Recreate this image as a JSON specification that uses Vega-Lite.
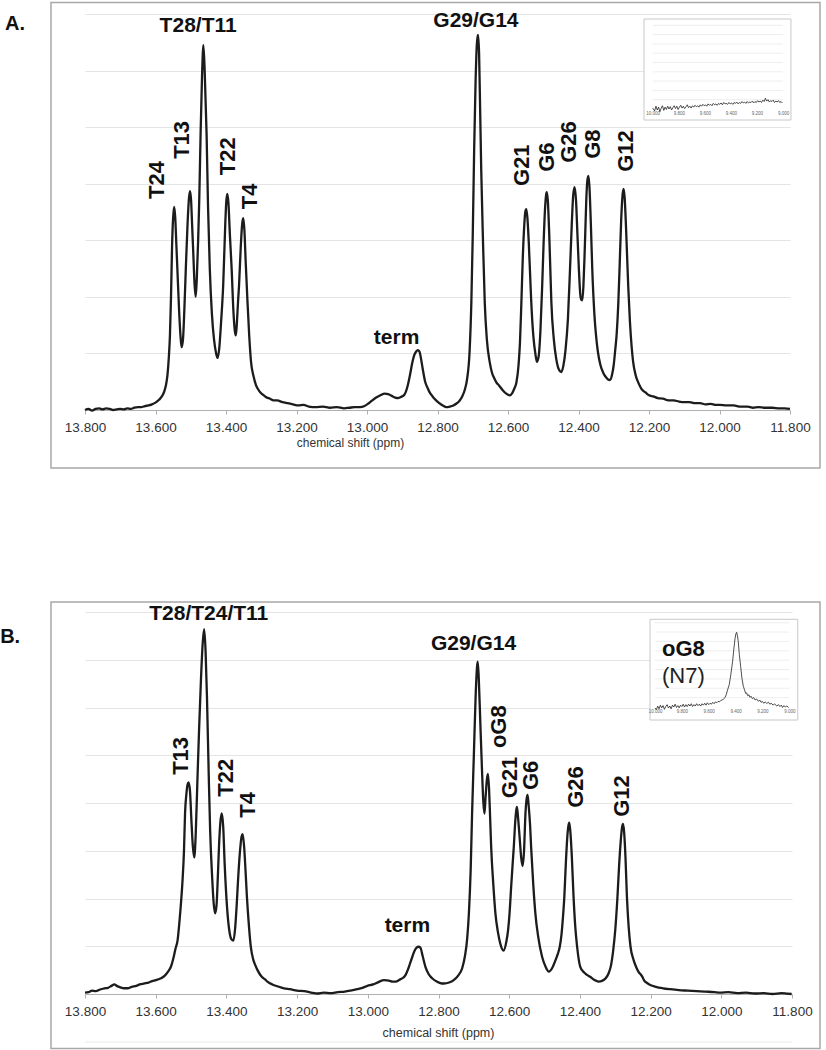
{
  "$schema": "https://vega.github.io/schema/vega-lite/v6.json",
  "padding": {"left": 0, "top": 1, "right": 0, "bottom": 0},
  "config": {"view": {"stroke": null}, "font": "Liberation Sans", "text": {"font": "Liberation Sans"}},
  "spacing": 132,
  "datasets": {
    "grid9": [{"g":1},{"g":2},{"g":3},{"g":4},{"g":5},{"g":6},{"g":7},{"g":8},{"g":9}],
    "specA": [
      {"ppm":13.8,"i":0.0},{"ppm":13.79,"i":0.02},{"ppm":13.78,"i":-0.01},{"ppm":13.77,"i":0.02},{"ppm":13.76,"i":0.03},{"ppm":13.75,"i":0.01},{"ppm":13.74,"i":0.03},{"ppm":13.73,"i":0.02},{"ppm":13.72,"i":0.0},{"ppm":13.71,"i":0.01},{"ppm":13.7,"i":0.02},{"ppm":13.69,"i":0.01},{"ppm":13.68,"i":0.03},{"ppm":13.67,"i":0.02},{"ppm":13.66,"i":0.04},{"ppm":13.65,"i":0.05},{"ppm":13.64,"i":0.05},{"ppm":13.63,"i":0.07},{"ppm":13.62,"i":0.08},{"ppm":13.61,"i":0.1},{"ppm":13.6,"i":0.13},{"ppm":13.59,"i":0.18},{"ppm":13.58,"i":0.26},{"ppm":13.575,"i":0.33},{"ppm":13.57,"i":0.45},{"ppm":13.566,"i":0.62},{"ppm":13.562,"i":0.95},{"ppm":13.559,"i":1.32},{"ppm":13.556,"i":2.0},{"ppm":13.553,"i":2.9},{"ppm":13.55,"i":3.4},{"ppm":13.547,"i":3.59},{"ppm":13.544,"i":3.4},{"ppm":13.541,"i":2.95},{"ppm":13.538,"i":2.5},{"ppm":13.533,"i":1.75},{"ppm":13.529,"i":1.3},{"ppm":13.526,"i":1.11},{"ppm":13.522,"i":1.25},{"ppm":13.518,"i":1.8},{"ppm":13.514,"i":2.5},{"ppm":13.509,"i":3.3},{"ppm":13.505,"i":3.75},{"ppm":13.502,"i":3.87},{"ppm":13.499,"i":3.7},{"ppm":13.496,"i":3.25},{"ppm":13.493,"i":2.8},{"ppm":13.489,"i":2.2},{"ppm":13.486,"i":2.0},{"ppm":13.483,"i":2.3},{"ppm":13.479,"i":3.0},{"ppm":13.476,"i":3.68},{"ppm":13.472,"i":4.9},{"ppm":13.468,"i":5.9},{"ppm":13.464,"i":6.45},{"ppm":13.46,"i":5.9},{"ppm":13.455,"i":4.86},{"ppm":13.451,"i":3.6},{"ppm":13.446,"i":2.5},{"ppm":13.44,"i":1.7},{"ppm":13.434,"i":1.25},{"ppm":13.428,"i":1.0},{"ppm":13.424,"i":0.92},{"ppm":13.419,"i":1.1},{"ppm":13.414,"i":1.55},{"ppm":13.408,"i":2.2},{"ppm":13.402,"i":3.3},{"ppm":13.399,"i":3.7},{"ppm":13.396,"i":3.82},{"ppm":13.393,"i":3.65},{"ppm":13.389,"i":3.1},{"ppm":13.384,"i":2.5},{"ppm":13.379,"i":1.75},{"ppm":13.375,"i":1.4},{"ppm":13.372,"i":1.32},{"ppm":13.369,"i":1.55},{"ppm":13.366,"i":1.9},{"ppm":13.363,"i":2.2},{"ppm":13.358,"i":2.9},{"ppm":13.354,"i":3.3},{"ppm":13.351,"i":3.39},{"ppm":13.348,"i":3.2},{"ppm":13.344,"i":2.6},{"ppm":13.339,"i":1.91},{"ppm":13.334,"i":1.3},{"ppm":13.329,"i":0.85},{"ppm":13.322,"i":0.6},{"ppm":13.315,"i":0.44},{"ppm":13.305,"i":0.33},{"ppm":13.295,"i":0.27},{"ppm":13.287,"i":0.23},{"ppm":13.275,"i":0.2},{"ppm":13.265,"i":0.17},{"ppm":13.255,"i":0.17},{"ppm":13.24,"i":0.14},{"ppm":13.225,"i":0.12},{"ppm":13.21,"i":0.1},{"ppm":13.195,"i":0.08},{"ppm":13.18,"i":0.09},{"ppm":13.165,"i":0.06},{"ppm":13.145,"i":0.05},{"ppm":13.125,"i":0.06},{"ppm":13.105,"i":0.04},{"ppm":13.085,"i":0.05},{"ppm":13.065,"i":0.03},{"ppm":13.05,"i":0.04},{"ppm":13.035,"i":0.05},{"ppm":13.02,"i":0.05},{"ppm":13.007,"i":0.07},{"ppm":12.995,"i":0.12},{"ppm":12.985,"i":0.17},{"ppm":12.974,"i":0.22},{"ppm":12.962,"i":0.26},{"ppm":12.95,"i":0.29},{"ppm":12.94,"i":0.28},{"ppm":12.93,"i":0.25},{"ppm":12.92,"i":0.22},{"ppm":12.913,"i":0.21},{"ppm":12.904,"i":0.23},{"ppm":12.894,"i":0.27},{"ppm":12.885,"i":0.42},{"ppm":12.878,"i":0.62},{"ppm":12.872,"i":0.82},{"ppm":12.866,"i":0.97},{"ppm":12.86,"i":1.04},{"ppm":12.856,"i":1.06},{"ppm":12.851,"i":1.03},{"ppm":12.846,"i":0.88},{"ppm":12.842,"i":0.73},{"ppm":12.835,"i":0.5},{"ppm":12.828,"i":0.39},{"ppm":12.823,"i":0.32},{"ppm":12.814,"i":0.24},{"ppm":12.804,"i":0.17},{"ppm":12.795,"i":0.12},{"ppm":12.785,"i":0.08},{"ppm":12.775,"i":0.05},{"ppm":12.765,"i":0.06},{"ppm":12.755,"i":0.08},{"ppm":12.747,"i":0.11},{"ppm":12.738,"i":0.16},{"ppm":12.73,"i":0.24},{"ppm":12.723,"i":0.35},{"ppm":12.716,"i":0.55},{"ppm":12.709,"i":1.03},{"ppm":12.704,"i":1.9},{"ppm":12.7,"i":3.09},{"ppm":12.696,"i":4.6},{"ppm":12.692,"i":5.8},{"ppm":12.688,"i":6.5},{"ppm":12.685,"i":6.63},{"ppm":12.682,"i":6.3},{"ppm":12.679,"i":5.3},{"ppm":12.676,"i":4.26},{"ppm":12.671,"i":3.0},{"ppm":12.666,"i":1.91},{"ppm":12.66,"i":1.25},{"ppm":12.652,"i":0.85},{"ppm":12.645,"i":0.65},{"ppm":12.638,"i":0.55},{"ppm":12.633,"i":0.49},{"ppm":12.625,"i":0.43},{"ppm":12.615,"i":0.35},{"ppm":12.605,"i":0.29},{"ppm":12.595,"i":0.26},{"ppm":12.588,"i":0.3},{"ppm":12.582,"i":0.38},{"ppm":12.576,"i":0.49},{"ppm":12.57,"i":0.8},{"ppm":12.566,"i":1.2},{"ppm":12.562,"i":1.91},{"ppm":12.558,"i":2.7},{"ppm":12.554,"i":3.25},{"ppm":12.551,"i":3.5},{"ppm":12.548,"i":3.55},{"ppm":12.545,"i":3.4},{"ppm":12.541,"i":2.95},{"ppm":12.537,"i":2.35},{"ppm":12.534,"i":1.91},{"ppm":12.528,"i":1.3},{"ppm":12.522,"i":0.98},{"ppm":12.518,"i":0.85},{"ppm":12.513,"i":0.95},{"ppm":12.508,"i":1.4},{"ppm":12.503,"i":2.2},{"ppm":12.499,"i":2.95},{"ppm":12.495,"i":3.55},{"ppm":12.492,"i":3.8},{"ppm":12.49,"i":3.85},{"ppm":12.487,"i":3.7},{"ppm":12.483,"i":3.1},{"ppm":12.48,"i":2.5},{"ppm":12.477,"i":1.91},{"ppm":12.47,"i":1.25},{"ppm":12.463,"i":0.9},{"ppm":12.456,"i":0.72},{"ppm":12.449,"i":0.67},{"ppm":12.443,"i":0.78},{"ppm":12.437,"i":1.05},{"ppm":12.43,"i":1.61},{"ppm":12.424,"i":2.5},{"ppm":12.419,"i":3.3},{"ppm":12.415,"i":3.8},{"ppm":12.411,"i":3.94},{"ppm":12.407,"i":3.7},{"ppm":12.403,"i":3.1},{"ppm":12.399,"i":2.5},{"ppm":12.395,"i":2.05},{"ppm":12.392,"i":1.95},{"ppm":12.389,"i":1.94},{"ppm":12.386,"i":2.2},{"ppm":12.383,"i":2.7},{"ppm":12.381,"i":3.09},{"ppm":12.378,"i":3.7},{"ppm":12.375,"i":4.05},{"ppm":12.372,"i":4.14},{"ppm":12.369,"i":3.95},{"ppm":12.365,"i":3.3},{"ppm":12.361,"i":2.5},{"ppm":12.355,"i":1.7},{"ppm":12.35,"i":1.3},{"ppm":12.345,"i":1.03},{"ppm":12.338,"i":0.8},{"ppm":12.33,"i":0.66},{"ppm":12.322,"i":0.58},{"ppm":12.316,"i":0.54},{"ppm":12.311,"i":0.53},{"ppm":12.305,"i":0.62},{"ppm":12.3,"i":0.8},{"ppm":12.296,"i":1.05},{"ppm":12.292,"i":1.32},{"ppm":12.287,"i":1.9},{"ppm":12.283,"i":2.6},{"ppm":12.279,"i":3.35},{"ppm":12.275,"i":3.8},{"ppm":12.272,"i":3.91},{"ppm":12.269,"i":3.75},{"ppm":12.265,"i":3.2},{"ppm":12.259,"i":2.2},{"ppm":12.254,"i":1.55},{"ppm":12.249,"i":1.1},{"ppm":12.245,"i":0.85},{"ppm":12.238,"i":0.62},{"ppm":12.23,"i":0.48},{"ppm":12.221,"i":0.37},{"ppm":12.21,"i":0.31},{"ppm":12.2,"i":0.26},{"ppm":12.188,"i":0.24},{"ppm":12.175,"i":0.21},{"ppm":12.16,"i":0.2},{"ppm":12.145,"i":0.17},{"ppm":12.13,"i":0.17},{"ppm":12.115,"i":0.15},{"ppm":12.1,"i":0.14},{"ppm":12.085,"i":0.14},{"ppm":12.07,"i":0.12},{"ppm":12.055,"i":0.12},{"ppm":12.04,"i":0.1},{"ppm":12.025,"i":0.11},{"ppm":12.01,"i":0.09},{"ppm":11.999,"i":0.09},{"ppm":11.98,"i":0.08},{"ppm":11.96,"i":0.08},{"ppm":11.94,"i":0.06},{"ppm":11.92,"i":0.06},{"ppm":11.905,"i":0.04},{"ppm":11.89,"i":0.05},{"ppm":11.87,"i":0.04},{"ppm":11.85,"i":0.04},{"ppm":11.83,"i":0.03},{"ppm":11.815,"i":0.03},{"ppm":11.8,"i":0.02}
    ],
    "specB": [
      {"ppm":13.8,"i":0.03},{"ppm":13.79,"i":0.04},{"ppm":13.78,"i":0.07},{"ppm":13.77,"i":0.06},{"ppm":13.755,"i":0.1},{"ppm":13.745,"i":0.12},{"ppm":13.735,"i":0.13},{"ppm":13.725,"i":0.17},{"ppm":13.717,"i":0.2},{"ppm":13.71,"i":0.17},{"ppm":13.7,"i":0.14},{"ppm":13.69,"i":0.12},{"ppm":13.679,"i":0.12},{"ppm":13.668,"i":0.15},{"ppm":13.655,"i":0.17},{"ppm":13.645,"i":0.2},{"ppm":13.632,"i":0.22},{"ppm":13.62,"i":0.24},{"ppm":13.61,"i":0.27},{"ppm":13.6,"i":0.29},{"ppm":13.585,"i":0.33},{"ppm":13.575,"i":0.38},{"ppm":13.565,"i":0.47},{"ppm":13.557,"i":0.57},{"ppm":13.55,"i":0.75},{"ppm":13.544,"i":0.95},{"ppm":13.538,"i":1.13},{"ppm":13.533,"i":1.5},{"ppm":13.528,"i":1.95},{"ppm":13.524,"i":2.39},{"ppm":13.52,"i":3.0},{"ppm":13.517,"i":3.78},{"ppm":13.513,"i":4.2},{"ppm":13.51,"i":4.38},{"ppm":13.507,"i":4.43},{"ppm":13.503,"i":4.25},{"ppm":13.499,"i":3.64},{"ppm":13.495,"i":3.1},{"ppm":13.491,"i":2.86},{"ppm":13.487,"i":3.3},{"ppm":13.482,"i":4.48},{"ppm":13.477,"i":5.6},{"ppm":13.472,"i":6.58},{"ppm":13.467,"i":7.35},{"ppm":13.463,"i":7.64},{"ppm":13.459,"i":7.2},{"ppm":13.455,"i":6.23},{"ppm":13.45,"i":4.6},{"ppm":13.446,"i":3.43},{"ppm":13.44,"i":2.4},{"ppm":13.436,"i":1.9},{"ppm":13.432,"i":1.69},{"ppm":13.428,"i":1.85},{"ppm":13.424,"i":2.5},{"ppm":13.421,"i":3.08},{"ppm":13.417,"i":3.6},{"ppm":13.413,"i":3.78},{"ppm":13.409,"i":3.5},{"ppm":13.405,"i":2.74},{"ppm":13.398,"i":1.8},{"ppm":13.392,"i":1.34},{"ppm":13.386,"i":1.15},{"ppm":13.38,"i":1.12},{"ppm":13.375,"i":1.4},{"ppm":13.371,"i":1.85},{"ppm":13.367,"i":2.39},{"ppm":13.362,"i":2.95},{"ppm":13.357,"i":3.3},{"ppm":13.354,"i":3.35},{"ppm":13.35,"i":3.1},{"ppm":13.346,"i":2.6},{"ppm":13.342,"i":2.04},{"ppm":13.336,"i":1.4},{"ppm":13.331,"i":0.99},{"ppm":13.324,"i":0.72},{"ppm":13.318,"i":0.6},{"ppm":13.312,"i":0.5},{"ppm":13.3,"i":0.36},{"ppm":13.29,"i":0.3},{"ppm":13.284,"i":0.26},{"ppm":13.27,"i":0.2},{"ppm":13.255,"i":0.16},{"ppm":13.237,"i":0.12},{"ppm":13.22,"i":0.1},{"ppm":13.2,"i":0.07},{"ppm":13.18,"i":0.06},{"ppm":13.16,"i":0.03},{"ppm":13.143,"i":0.01},{"ppm":13.125,"i":0.03},{"ppm":13.105,"i":0.02},{"ppm":13.085,"i":0.04},{"ppm":13.065,"i":0.05},{"ppm":13.049,"i":0.07},{"ppm":13.03,"i":0.1},{"ppm":13.015,"i":0.13},{"ppm":13.001,"i":0.17},{"ppm":12.985,"i":0.2},{"ppm":12.97,"i":0.25},{"ppm":12.954,"i":0.29},{"ppm":12.94,"i":0.28},{"ppm":12.93,"i":0.26},{"ppm":12.921,"i":0.26},{"ppm":12.91,"i":0.3},{"ppm":12.9,"i":0.34},{"ppm":12.893,"i":0.4},{"ppm":12.886,"i":0.52},{"ppm":12.88,"i":0.65},{"ppm":12.874,"i":0.78},{"ppm":12.868,"i":0.9},{"ppm":12.862,"i":0.97},{"ppm":12.856,"i":0.99},{"ppm":12.851,"i":0.97},{"ppm":12.845,"i":0.8},{"ppm":12.837,"i":0.57},{"ppm":12.828,"i":0.42},{"ppm":12.818,"i":0.33},{"ppm":12.805,"i":0.26},{"ppm":12.795,"i":0.23},{"ppm":12.785,"i":0.22},{"ppm":12.77,"i":0.24},{"ppm":12.757,"i":0.29},{"ppm":12.745,"i":0.38},{"ppm":12.733,"i":0.54},{"ppm":12.725,"i":0.8},{"ppm":12.719,"i":1.15},{"ppm":12.714,"i":1.69},{"ppm":12.709,"i":2.6},{"ppm":12.705,"i":3.78},{"ppm":12.7,"i":5.0},{"ppm":12.695,"i":6.23},{"ppm":12.691,"i":6.85},{"ppm":12.689,"i":6.96},{"ppm":12.686,"i":6.6},{"ppm":12.681,"i":5.53},{"ppm":12.677,"i":4.7},{"ppm":12.673,"i":4.0},{"ppm":12.67,"i":3.78},{"ppm":12.667,"i":4.1},{"ppm":12.663,"i":4.5},{"ppm":12.66,"i":4.61},{"ppm":12.657,"i":4.3},{"ppm":12.654,"i":3.7},{"ppm":12.651,"i":3.08},{"ppm":12.645,"i":2.3},{"ppm":12.639,"i":1.69},{"ppm":12.632,"i":1.3},{"ppm":12.625,"i":1.05},{"ppm":12.616,"i":0.91},{"ppm":12.608,"i":1.1},{"ppm":12.603,"i":1.35},{"ppm":12.599,"i":1.69},{"ppm":12.594,"i":2.3},{"ppm":12.59,"i":2.75},{"ppm":12.587,"i":3.08},{"ppm":12.583,"i":3.6},{"ppm":12.58,"i":3.85},{"ppm":12.578,"i":3.92},{"ppm":12.575,"i":3.7},{"ppm":12.57,"i":3.23},{"ppm":12.566,"i":2.85},{"ppm":12.562,"i":2.68},{"ppm":12.558,"i":3.0},{"ppm":12.554,"i":3.78},{"ppm":12.551,"i":4.07},{"ppm":12.548,"i":4.17},{"ppm":12.545,"i":3.95},{"ppm":12.541,"i":3.55},{"ppm":12.538,"i":3.08},{"ppm":12.532,"i":2.3},{"ppm":12.526,"i":1.69},{"ppm":12.518,"i":1.2},{"ppm":12.507,"i":0.78},{"ppm":12.497,"i":0.57},{"ppm":12.488,"i":0.47},{"ppm":12.478,"i":0.55},{"ppm":12.469,"i":0.71},{"ppm":12.462,"i":0.85},{"ppm":12.457,"i":0.99},{"ppm":12.452,"i":1.25},{"ppm":12.448,"i":1.6},{"ppm":12.444,"i":2.04},{"ppm":12.44,"i":2.7},{"ppm":12.436,"i":3.25},{"ppm":12.433,"i":3.5},{"ppm":12.43,"i":3.59},{"ppm":12.427,"i":3.4},{"ppm":12.423,"i":2.9},{"ppm":12.418,"i":2.04},{"ppm":12.413,"i":1.4},{"ppm":12.408,"i":1.0},{"ppm":12.399,"i":0.57},{"ppm":12.388,"i":0.45},{"ppm":12.38,"i":0.4},{"ppm":12.371,"i":0.36},{"ppm":12.36,"i":0.3},{"ppm":12.347,"i":0.26},{"ppm":12.336,"i":0.28},{"ppm":12.327,"i":0.33},{"ppm":12.319,"i":0.43},{"ppm":12.312,"i":0.6},{"ppm":12.306,"i":0.9},{"ppm":12.3,"i":1.34},{"ppm":12.294,"i":2.0},{"ppm":12.289,"i":2.7},{"ppm":12.284,"i":3.25},{"ppm":12.281,"i":3.48},{"ppm":12.278,"i":3.56},{"ppm":12.275,"i":3.4},{"ppm":12.271,"i":2.85},{"ppm":12.267,"i":2.04},{"ppm":12.262,"i":1.4},{"ppm":12.257,"i":1.0},{"ppm":12.248,"i":0.71},{"ppm":12.24,"i":0.55},{"ppm":12.233,"i":0.45},{"ppm":12.229,"i":0.42},{"ppm":12.224,"i":0.37},{"ppm":12.218,"i":0.28},{"ppm":12.21,"i":0.23},{"ppm":12.201,"i":0.19},{"ppm":12.185,"i":0.15},{"ppm":12.165,"i":0.12},{"ppm":12.145,"i":0.1},{"ppm":12.12,"i":0.08},{"ppm":12.095,"i":0.07},{"ppm":12.07,"i":0.06},{"ppm":12.045,"i":0.05},{"ppm":12.02,"i":0.04},{"ppm":12.003,"i":0.03},{"ppm":11.98,"i":0.04},{"ppm":11.955,"i":0.02},{"ppm":11.93,"i":0.03},{"ppm":11.905,"i":0.01},{"ppm":11.88,"i":0.02},{"ppm":11.855,"i":0.0},{"ppm":11.83,"i":0.02},{"ppm":11.815,"i":0.01},{"ppm":11.801,"i":0.0}
    ],
    "insetA": [
      {"ppm":10.0,"i":0.1},{"ppm":9.985,"i":-0.2},{"ppm":9.975,"i":0.3},{"ppm":9.965,"i":-0.1},{"ppm":9.955,"i":0.2},{"ppm":9.945,"i":-0.3},{"ppm":9.935,"i":0.1},{"ppm":9.925,"i":0.35},{"ppm":9.915,"i":-0.15},{"ppm":9.905,"i":0.2},{"ppm":9.895,"i":-0.05},{"ppm":9.885,"i":0.3},{"ppm":9.875,"i":0.0},{"ppm":9.865,"i":0.25},{"ppm":9.855,"i":-0.1},{"ppm":9.845,"i":0.15},{"ppm":9.835,"i":0.35},{"ppm":9.825,"i":0.05},{"ppm":9.815,"i":0.3},{"ppm":9.805,"i":-0.05},{"ppm":9.795,"i":0.2},{"ppm":9.785,"i":0.4},{"ppm":9.775,"i":0.1},{"ppm":9.765,"i":0.3},{"ppm":9.755,"i":0.05},{"ppm":9.745,"i":0.25},{"ppm":9.735,"i":0.45},{"ppm":9.725,"i":0.15},{"ppm":9.715,"i":0.3},{"ppm":9.705,"i":0.1},{"ppm":9.695,"i":0.35},{"ppm":9.685,"i":0.2},{"ppm":9.675,"i":0.4},{"ppm":9.665,"i":0.25},{"ppm":9.655,"i":0.35},{"ppm":9.645,"i":0.2},{"ppm":9.635,"i":0.45},{"ppm":9.625,"i":0.3},{"ppm":9.615,"i":0.5},{"ppm":9.605,"i":0.35},{"ppm":9.595,"i":0.45},{"ppm":9.585,"i":0.3},{"ppm":9.575,"i":0.55},{"ppm":9.565,"i":0.4},{"ppm":9.555,"i":0.5},{"ppm":9.545,"i":0.35},{"ppm":9.535,"i":0.6},{"ppm":9.525,"i":0.45},{"ppm":9.515,"i":0.55},{"ppm":9.505,"i":0.4},{"ppm":9.495,"i":0.6},{"ppm":9.485,"i":0.5},{"ppm":9.475,"i":0.65},{"ppm":9.465,"i":0.45},{"ppm":9.455,"i":0.7},{"ppm":9.445,"i":0.55},{"ppm":9.435,"i":0.6},{"ppm":9.425,"i":0.5},{"ppm":9.415,"i":0.7},{"ppm":9.405,"i":0.55},{"ppm":9.395,"i":0.65},{"ppm":9.385,"i":0.5},{"ppm":9.375,"i":0.7},{"ppm":9.365,"i":0.6},{"ppm":9.355,"i":0.75},{"ppm":9.345,"i":0.55},{"ppm":9.335,"i":0.7},{"ppm":9.325,"i":0.6},{"ppm":9.315,"i":0.8},{"ppm":9.305,"i":0.65},{"ppm":9.295,"i":0.75},{"ppm":9.285,"i":0.6},{"ppm":9.275,"i":0.8},{"ppm":9.265,"i":0.65},{"ppm":9.255,"i":0.75},{"ppm":9.245,"i":0.7},{"ppm":9.235,"i":0.85},{"ppm":9.225,"i":0.65},{"ppm":9.215,"i":0.8},{"ppm":9.205,"i":0.7},{"ppm":9.195,"i":0.9},{"ppm":9.185,"i":0.75},{"ppm":9.175,"i":0.85},{"ppm":9.165,"i":0.7},{"ppm":9.155,"i":0.95},{"ppm":9.145,"i":0.8},{"ppm":9.135,"i":1.15},{"ppm":9.125,"i":0.85},{"ppm":9.115,"i":1.0},{"ppm":9.105,"i":0.75},{"ppm":9.095,"i":0.9},{"ppm":9.085,"i":0.8},{"ppm":9.075,"i":0.95},{"ppm":9.065,"i":0.7},{"ppm":9.055,"i":0.85},{"ppm":9.045,"i":0.75},{"ppm":9.035,"i":0.9},{"ppm":9.025,"i":0.7},{"ppm":9.015,"i":0.8},{"ppm":9.005,"i":0.65}
    ],
    "insetB": [
      {"ppm":10.0,"i":-0.1},{"ppm":9.99,"i":-0.3},{"ppm":9.98,"i":0.1},{"ppm":9.97,"i":-0.2},{"ppm":9.96,"i":0.2},{"ppm":9.95,"i":-0.1},{"ppm":9.94,"i":0.15},{"ppm":9.93,"i":-0.25},{"ppm":9.92,"i":0.05},{"ppm":9.91,"i":0.25},{"ppm":9.9,"i":-0.1},{"ppm":9.89,"i":0.1},{"ppm":9.88,"i":-0.2},{"ppm":9.87,"i":0.2},{"ppm":9.86,"i":0.0},{"ppm":9.85,"i":0.3},{"ppm":9.84,"i":-0.05},{"ppm":9.83,"i":0.15},{"ppm":9.82,"i":-0.1},{"ppm":9.81,"i":0.2},{"ppm":9.8,"i":0.05},{"ppm":9.79,"i":0.3},{"ppm":9.78,"i":0.0},{"ppm":9.77,"i":0.25},{"ppm":9.76,"i":0.05},{"ppm":9.75,"i":0.3},{"ppm":9.74,"i":0.1},{"ppm":9.73,"i":0.35},{"ppm":9.72,"i":0.05},{"ppm":9.71,"i":0.25},{"ppm":9.7,"i":0.1},{"ppm":9.69,"i":0.35},{"ppm":9.68,"i":0.15},{"ppm":9.67,"i":0.3},{"ppm":9.66,"i":0.1},{"ppm":9.65,"i":0.35},{"ppm":9.64,"i":0.2},{"ppm":9.63,"i":0.4},{"ppm":9.62,"i":0.2},{"ppm":9.61,"i":0.45},{"ppm":9.6,"i":0.25},{"ppm":9.59,"i":0.4},{"ppm":9.58,"i":0.3},{"ppm":9.57,"i":0.5},{"ppm":9.56,"i":0.35},{"ppm":9.55,"i":0.55},{"ppm":9.54,"i":0.45},{"ppm":9.53,"i":0.6},{"ppm":9.52,"i":0.55},{"ppm":9.51,"i":0.7},{"ppm":9.5,"i":0.75},{"ppm":9.49,"i":0.85},{"ppm":9.479,"i":1.0},{"ppm":9.47,"i":1.3},{"ppm":9.46,"i":1.8},{"ppm":9.447,"i":2.4},{"ppm":9.435,"i":3.5},{"ppm":9.422,"i":4.9},{"ppm":9.412,"i":6.3},{"ppm":9.404,"i":7.3},{"ppm":9.398,"i":7.8},{"ppm":9.392,"i":7.97},{"ppm":9.386,"i":7.6},{"ppm":9.38,"i":6.97},{"ppm":9.372,"i":5.6},{"ppm":9.362,"i":4.3},{"ppm":9.352,"i":3.0},{"ppm":9.342,"i":2.2},{"ppm":9.335,"i":1.9},{"ppm":9.325,"i":1.45},{"ppm":9.317,"i":1.5},{"ppm":9.31,"i":1.2},{"ppm":9.3,"i":1.3},{"ppm":9.293,"i":1.03},{"ppm":9.285,"i":1.15},{"ppm":9.275,"i":0.9},{"ppm":9.265,"i":1.0},{"ppm":9.255,"i":0.75},{"ppm":9.243,"i":0.85},{"ppm":9.23,"i":0.6},{"ppm":9.22,"i":0.75},{"ppm":9.21,"i":0.5},{"ppm":9.2,"i":0.6},{"ppm":9.19,"i":0.4},{"ppm":9.18,"i":0.55},{"ppm":9.168,"i":0.39},{"ppm":9.155,"i":0.5},{"ppm":9.145,"i":0.3},{"ppm":9.135,"i":0.4},{"ppm":9.12,"i":0.2},{"ppm":9.11,"i":0.35},{"ppm":9.094,"i":0.1},{"ppm":9.08,"i":0.25},{"ppm":9.07,"i":0.05},{"ppm":9.06,"i":0.2},{"ppm":9.05,"i":-0.05},{"ppm":9.04,"i":0.15},{"ppm":9.03,"i":0.0},{"ppm":9.019,"i":0.1},{"ppm":9.005,"i":-0.05}
    ],
    "labA_rot": [
      {"label":"T24","ppm":13.595,"i":3.73},{"label":"T13","ppm":13.524,"i":4.44},{"label":"T22","ppm":13.394,"i":4.15},{"label":"T4","ppm":13.331,"i":3.55},
      {"label":"G21","ppm":12.559,"i":3.96},{"label":"G6","ppm":12.49,"i":4.21},{"label":"G26","ppm":12.428,"i":4.37},{"label":"G8","ppm":12.36,"i":4.44},{"label":"G12","ppm":12.266,"i":4.21}
    ],
    "labA_flat": [
      {"label":"T28/T11","ppm":13.479,"i":6.68},{"label":"term","ppm":12.916,"i":1.167},{"label":"G29/G14","ppm":12.691,"i":6.77}
    ],
    "labB_rot": [
      {"label":"T13","ppm":13.529,"i":4.59},{"label":"T22","ppm":13.402,"i":4.13},{"label":"T4","ppm":13.34,"i":3.69},
      {"label":"oG8","ppm":12.628,"i":5.15},{"label":"G21","ppm":12.597,"i":4.1},{"label":"G6","ppm":12.537,"i":4.27},{"label":"G26","ppm":12.41,"i":3.9},{"label":"G12","ppm":12.28,"i":3.71}
    ],
    "labB_flat": [
      {"label":"T28/T24/T11","ppm":13.45,"i":7.83},{"label":"term","ppm":12.888,"i":1.3},{"label":"G29/G14","ppm":12.701,"i":7.2}
    ]
  },
  "vconcat": [
    {
      "width": 705,
      "height": 396,
      "layer": [
        {
          "data": {"values": [{}]},
          "mark": {"type": "rect", "filled": false, "stroke": "#a8a8a8", "strokeWidth": 1.5},
          "encoding": {
            "x": {"datum": 13.8965, "type": "quantitative", "scale": {"domain": [11.8, 13.8], "reverse": true, "nice": false, "zero": false}, "axis": null},
            "x2": {"datum": 11.7149},
            "y": {"datum": -1.025, "type": "quantitative", "scale": {"domain": [0, 7], "nice": false, "zero": false}, "axis": null},
            "y2": {"datum": 7.203}
          }
        },
        {
          "data": {"name": "specA"},
          "mark": {"type": "line", "interpolate": "monotone", "color": "#1c1c1c", "strokeWidth": 2.3},
          "encoding": {
            "x": {"field": "ppm", "type": "quantitative", "scale": {"domain": [11.8, 13.8], "reverse": true, "nice": false, "zero": false},
              "axis": {"orient": "bottom", "values": [13.8, 13.6, 13.4, 13.2, 13.0, 12.8, 12.6, 12.4, 12.2, 12.0, 11.8], "format": ".3f", "grid": false, "domainColor": "#b0b0b0", "tickColor": "#b0b0b0", "tickSize": 4, "labelFontSize": 13.5, "labelColor": "#333333", "labelPadding": 6, "labelFlush": false, "labelFont": "Liberation Sans", "title": "chemical shift (ppm)", "titleFont": "Liberation Sans", "titleFontSize": 12, "titleFontWeight": "normal", "titleColor": "#333333", "titleX": 265, "titleY": 32, "titleBaseline": "middle", "titleAlign": "center"}},
            "y": {"field": "i", "type": "quantitative", "scale": {"domain": [0, 7], "nice": false, "zero": false},
              "axis": {"orient": "left", "values": [1, 2, 3, 4, 5, 6, 7], "grid": true, "gridColor": "#e4e4e4", "gridWidth": 1, "domain": false, "ticks": false, "labels": false, "title": null}}
          }
        },
        {
          "data": {"name": "labA_rot"},
          "mark": {"type": "text", "angle": 270, "align": "left", "baseline": "middle", "fontSize": 22, "fontWeight": "bold", "color": "#111111"},
          "encoding": {
            "x": {"field": "ppm", "type": "quantitative", "scale": {"domain": [11.8, 13.8], "reverse": true, "nice": false, "zero": false}, "axis": null},
            "y": {"field": "i", "type": "quantitative", "scale": {"domain": [0, 7], "nice": false, "zero": false}, "axis": null},
            "text": {"field": "label"}
          }
        },
        {
          "data": {"name": "labA_flat"},
          "mark": {"type": "text", "align": "center", "baseline": "alphabetic", "fontSize": 21, "fontWeight": "bold", "color": "#111111"},
          "encoding": {
            "x": {"field": "ppm", "type": "quantitative", "scale": {"domain": [11.8, 13.8], "reverse": true, "nice": false, "zero": false}, "axis": null},
            "y": {"field": "i", "type": "quantitative", "scale": {"domain": [0, 7], "nice": false, "zero": false}, "axis": null},
            "text": {"field": "label"}
          }
        },
        {
          "data": {"values": [{"t": "A."}]},
          "mark": {"type": "text", "align": "left", "baseline": "alphabetic", "fontSize": 20, "fontWeight": "bold", "color": "#111111"},
          "encoding": {
            "x": {"datum": 14.027, "type": "quantitative", "scale": {"domain": [11.8, 13.8], "reverse": true, "nice": false, "zero": false}, "axis": null},
            "y": {"datum": 6.717, "type": "quantitative", "scale": {"domain": [0, 7], "nice": false, "zero": false}, "axis": null},
            "text": {"field": "t"}
          }
        },
        {
          "data": {"values": [{}]},
          "mark": {"type": "rect", "fill": "#ffffff", "stroke": "#c8c8c8", "strokeWidth": 1},
          "encoding": {
            "x": {"datum": 10.067, "type": "quantitative", "scale": {"domain": [9, 10], "reverse": true, "nice": false, "zero": false, "range": [567.7, 698]}, "axis": null},
            "x2": {"datum": 8.939},
            "y": {"datum": -1.183, "type": "quantitative", "scale": {"domain": [0, 9], "nice": false, "zero": false, "range": [95, 11.3]}, "axis": null},
            "y2": {"datum": 9.677}
          }
        },
        {
          "data": {"name": "grid9"},
          "mark": {"type": "rule", "color": "#e6e6e6", "strokeWidth": 0.7},
          "encoding": {
            "x": {"datum": 10, "type": "quantitative", "scale": {"domain": [9, 10], "reverse": true, "nice": false, "zero": false, "range": [567.7, 698]}, "axis": null},
            "x2": {"datum": 9},
            "y": {"field": "g", "type": "quantitative", "scale": {"domain": [0, 9], "nice": false, "zero": false, "range": [95, 11.3]}, "axis": null}
          }
        },
        {
          "data": {"name": "insetA"},
          "mark": {"type": "line", "color": "#222222", "strokeWidth": 0.8},
          "encoding": {
            "x": {"field": "ppm", "type": "quantitative", "scale": {"domain": [9, 10], "reverse": true, "nice": false, "zero": false, "range": [567.7, 698]},
              "axis": {"orient": "bottom", "offset": -301, "values": [10, 9.8, 9.6, 9.4, 9.2, 9.0], "format": ".3f", "domain": false, "ticks": false, "grid": false, "labelFontSize": 4.5, "labelColor": "#666666", "labelPadding": 1, "labelFlush": false, "labelOverlap": false, "title": null, "zindex": 2}},
            "y": {"field": "i", "type": "quantitative", "scale": {"domain": [0, 9], "nice": false, "zero": false, "range": [95, 11.3]}, "axis": null}
          }
        }
      ],
      "resolve": {"scale": {"x": "independent", "y": "independent"}, "axis": {"x": "independent", "y": "independent"}}
    },
    {
      "width": 707,
      "height": 382,
      "layer": [
        {
          "data": {"values": [{}]},
          "mark": {"type": "rect", "filled": false, "stroke": "#a8a8a8", "strokeWidth": 1.5},
          "encoding": {
            "x": {"datum": 13.8962, "type": "quantitative", "scale": {"domain": [11.8, 13.8], "reverse": true, "nice": false, "zero": false}, "axis": null},
            "x2": {"datum": 11.7208},
            "y": {"datum": -1.141, "type": "quantitative", "scale": {"domain": [0, 8], "nice": false, "zero": false}, "axis": null},
            "y2": {"datum": 8.209}
          }
        },
        {
          "data": {"values": [{}]},
          "mark": {"type": "rule", "color": "#e8e8e8", "strokeWidth": 1},
          "encoding": {
            "x": {"datum": 13.8, "type": "quantitative", "scale": {"domain": [11.8, 13.8], "reverse": true, "nice": false, "zero": false}, "axis": null},
            "x2": {"datum": 11.8},
            "y": {"datum": -1.005, "type": "quantitative", "scale": {"domain": [0, 8], "nice": false, "zero": false}, "axis": null}
          }
        },
        {
          "data": {"name": "specB"},
          "mark": {"type": "line", "interpolate": "monotone", "color": "#1c1c1c", "strokeWidth": 2.3},
          "encoding": {
            "x": {"field": "ppm", "type": "quantitative", "scale": {"domain": [11.8, 13.8], "reverse": true, "nice": false, "zero": false},
              "axis": {"orient": "bottom", "values": [13.8, 13.6, 13.4, 13.2, 13.0, 12.8, 12.6, 12.4, 12.2, 12.0, 11.8], "format": ".3f", "grid": false, "domainColor": "#b0b0b0", "tickColor": "#b0b0b0", "tickSize": 4, "labelFontSize": 13.5, "labelColor": "#333333", "labelPadding": 6, "labelFlush": false, "labelFont": "Liberation Sans", "title": "chemical shift (ppm)", "titleFont": "Liberation Sans", "titleFontSize": 12.5, "titleFontWeight": "normal", "titleColor": "#333333", "titleX": 353, "titleY": 38, "titleBaseline": "middle", "titleAlign": "center"}},
            "y": {"field": "i", "type": "quantitative", "scale": {"domain": [0, 8], "nice": false, "zero": false},
              "axis": {"orient": "left", "values": [1, 2, 3, 4, 5, 6, 7, 8], "grid": true, "gridColor": "#e4e4e4", "gridWidth": 1, "domain": false, "ticks": false, "labels": false, "title": null}}
          }
        },
        {
          "data": {"name": "labB_rot"},
          "mark": {"type": "text", "angle": 270, "align": "left", "baseline": "middle", "fontSize": 22, "fontWeight": "bold", "color": "#111111"},
          "encoding": {
            "x": {"field": "ppm", "type": "quantitative", "scale": {"domain": [11.8, 13.8], "reverse": true, "nice": false, "zero": false}, "axis": null},
            "y": {"field": "i", "type": "quantitative", "scale": {"domain": [0, 8], "nice": false, "zero": false}, "axis": null},
            "text": {"field": "label"}
          }
        },
        {
          "data": {"name": "labB_flat"},
          "mark": {"type": "text", "align": "center", "baseline": "alphabetic", "fontSize": 21, "fontWeight": "bold", "color": "#111111"},
          "encoding": {
            "x": {"field": "ppm", "type": "quantitative", "scale": {"domain": [11.8, 13.8], "reverse": true, "nice": false, "zero": false}, "axis": null},
            "y": {"field": "i", "type": "quantitative", "scale": {"domain": [0, 8], "nice": false, "zero": false}, "axis": null},
            "text": {"field": "label"}
          }
        },
        {
          "data": {"values": [{"t": "B."}]},
          "mark": {"type": "text", "align": "left", "baseline": "alphabetic", "fontSize": 20, "fontWeight": "bold", "color": "#111111"},
          "encoding": {
            "x": {"datum": 14.04, "type": "quantitative", "scale": {"domain": [11.8, 13.8], "reverse": true, "nice": false, "zero": false}, "axis": null},
            "y": {"datum": 7.351, "type": "quantitative", "scale": {"domain": [0, 8], "nice": false, "zero": false}, "axis": null},
            "text": {"field": "t"}
          }
        },
        {
          "data": {"values": [{}]},
          "mark": {"type": "rect", "fill": "#ffffff", "stroke": "#c8c8c8", "strokeWidth": 1},
          "encoding": {
            "x": {"datum": 10.037, "type": "quantitative", "scale": {"domain": [9, 10], "reverse": true, "nice": false, "zero": false, "range": [570, 704.3]}, "axis": null},
            "x2": {"datum": 8.937},
            "y": {"datum": -1.388, "type": "quantitative", "scale": {"domain": [0, 9], "nice": false, "zero": false, "range": [95, 10.7]}, "axis": null},
            "y2": {"datum": 9.363}
          }
        },
        {
          "data": {"name": "grid9"},
          "mark": {"type": "rule", "color": "#e6e6e6", "strokeWidth": 0.7},
          "encoding": {
            "x": {"datum": 10, "type": "quantitative", "scale": {"domain": [9, 10], "reverse": true, "nice": false, "zero": false, "range": [570, 704.3]}, "axis": null},
            "x2": {"datum": 9},
            "y": {"field": "g", "type": "quantitative", "scale": {"domain": [0, 9], "nice": false, "zero": false, "range": [95, 10.7]}, "axis": null}
          }
        },
        {
          "data": {"name": "insetB"},
          "mark": {"type": "line", "color": "#222222", "strokeWidth": 0.8},
          "encoding": {
            "x": {"field": "ppm", "type": "quantitative", "scale": {"domain": [9, 10], "reverse": true, "nice": false, "zero": false, "range": [570, 704.3]},
              "axis": {"orient": "bottom", "offset": -287, "values": [10, 9.8, 9.6, 9.4, 9.2, 9.0], "format": ".3f", "domain": false, "ticks": false, "grid": false, "labelFontSize": 4.5, "labelColor": "#666666", "labelPadding": 1, "labelFlush": false, "labelOverlap": false, "title": null, "zindex": 2}},
            "y": {"field": "i", "type": "quantitative", "scale": {"domain": [0, 9], "nice": false, "zero": false, "range": [95, 10.7]}, "axis": null}
          }
        },
        {
          "data": {"values": [{"t": "oG8", "ppm": 9.948, "i": 5.44}]},
          "mark": {"type": "text", "align": "left", "baseline": "alphabetic", "fontSize": 22, "fontWeight": "bold", "color": "#111111"},
          "encoding": {
            "x": {"field": "ppm", "type": "quantitative", "scale": {"domain": [9, 10], "reverse": true, "nice": false, "zero": false, "range": [570, 704.3]}, "axis": null},
            "y": {"field": "i", "type": "quantitative", "scale": {"domain": [0, 9], "nice": false, "zero": false, "range": [95, 10.7]}, "axis": null},
            "text": {"field": "t"}
          }
        },
        {
          "data": {"values": [{"t": "(N7)", "ppm": 9.948, "i": 2.56}]},
          "mark": {"type": "text", "align": "left", "baseline": "alphabetic", "fontSize": 22, "fontWeight": "normal", "color": "#222222"},
          "encoding": {
            "x": {"field": "ppm", "type": "quantitative", "scale": {"domain": [9, 10], "reverse": true, "nice": false, "zero": false, "range": [570, 704.3]}, "axis": null},
            "y": {"field": "i", "type": "quantitative", "scale": {"domain": [0, 9], "nice": false, "zero": false, "range": [95, 10.7]}, "axis": null},
            "text": {"field": "t"}
          }
        }
      ],
      "resolve": {"scale": {"x": "independent", "y": "independent"}, "axis": {"x": "independent", "y": "independent"}}
    }
  ]
}
